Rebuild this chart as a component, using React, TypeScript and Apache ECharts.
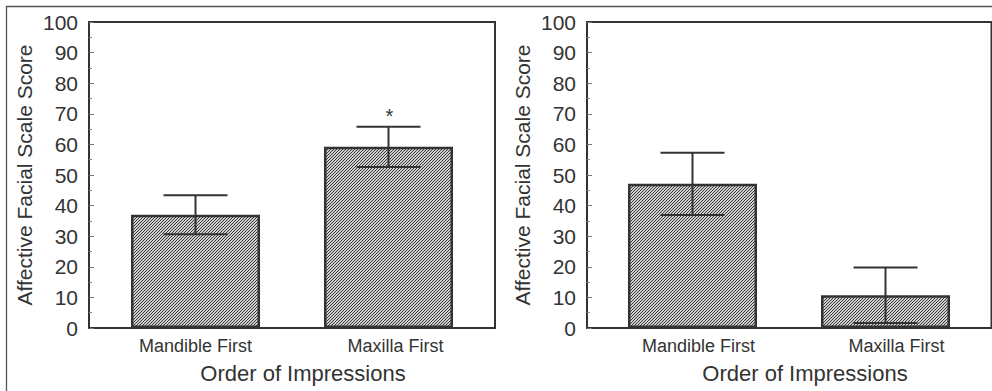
import React, { useEffect, useRef } from "react";
import * as echarts from "echarts";

const categories = ["Mandible First", "Maxilla First"];
const leftMeans = [37, 59.2];
const leftErrors = [6.4, 6.6];
const leftMarks = ["", "*"];
const rightMeans = [47.1, 10.7];
const rightErrors = [10.2, 9.1];
const rightMarks = ["", ""];
const yTitle = "Affective Facial Scale Score";
const xTitle = "Order of Impressions";

const FONT = "'Liberation Sans', Arial, Helvetica, sans-serif";
const INK = "#333";

function makeHatch(): string {
  const c = document.createElement("canvas");
  c.width = 3;
  c.height = 3;
  const ctx = c.getContext("2d")!;
  ctx.fillStyle = "#cfcfcf";
  ctx.fillRect(0, 0, 3, 3);
  ctx.fillStyle = "#3a3a3a";
  ctx.fillRect(2, 0, 1, 1);
  ctx.fillRect(1, 1, 1, 1);
  ctx.fillRect(0, 2, 1, 1);
  return c.toDataURL();
}

export default function App() {
  const ref = useRef<HTMLDivElement>(null);
  useEffect(() => {
    if (!ref.current) return;
    const chart = echarts.init(ref.current, null, { renderer: "svg" });
    const hatch = { image: makeHatch(), repeat: "repeat", imageWidth: 3, imageHeight: 3 } as any;

    const boxGrid = (left: number, width: number) => ({
      left, top: 22, width, height: 306, show: true,
      borderColor: INK, borderWidth: 2, backgroundColor: "transparent",
    });
    const barGrid = (left: number) => ({ left, top: 22, width: 386, height: 306 });

    const boxY = (gridIndex: number) => ({
      type: "value", gridIndex, min: 0, max: 100, interval: 10,
      axisLine: { show: false },
      axisTick: { show: true, inside: true, length: 5, lineStyle: { color: "#777", width: 1 } },
      minorTick: { show: true, splitNumber: 2, length: 3, lineStyle: { color: "#888", width: 1 } },
      splitLine: { show: false },
      axisLabel: { show: true, fontSize: 21, color: INK, fontFamily: FONT, margin: 11 },
      name: yTitle, nameLocation: "middle", nameGap: 54,
      nameTextStyle: { fontSize: 21, color: INK, fontFamily: FONT },
    });
    const hiddenY = (gridIndex: number) => ({
      type: "value", gridIndex, min: 0, max: 100, show: false,
    });
    const boxX = (gridIndex: number) => ({
      type: "value", gridIndex, min: 0, max: 1, show: false,
    });
    const catX = (gridIndex: number, shift: number, offsets: number[]) => ({
      type: "category", gridIndex, data: categories,
      axisLine: { show: false }, axisTick: { show: false },
      axisLabel: {
        interval: 0, hideOverlap: false,
        fontSize: 18, color: INK, fontFamily: FONT, margin: 9,
        formatter: (v: string, i: number) => `{c${i}|${v}}`,
        rich: {
          c0: { fontSize: 18, color: INK, fontFamily: FONT, padding: [0, 0, 0, 2 * offsets[0]] },
          c1: { fontSize: 18, color: INK, fontFamily: FONT, padding: [0, 0, 0, 2 * offsets[1]] },
        },
      },
      name: xTitle, nameLocation: "middle", nameGap: 34,
      nameTextStyle: { fontSize: 22, color: INK, fontFamily: FONT, padding: [0, 0, 0, shift] },
    });

    const errSeries = (axisIndex: number, means: number[], errs: number[], marks: string[]) => ({
      type: "custom",
      xAxisIndex: axisIndex, yAxisIndex: axisIndex, z: 5,
      data: means.map((m, i) => [i, m, errs[i]]),
      renderItem: (params: any, api: any) => {
        const x = api.value(0);
        const m = api.value(1);
        const e = api.value(2);
        const top = api.coord([x, m + e]);
        const bot = api.coord([x, m - e]);
        const hw = 32;
        const st = { stroke: INK, lineWidth: 2 };
        const children: any[] = [
          { type: "line", shape: { x1: top[0], y1: top[1], x2: bot[0], y2: bot[1] }, style: st },
          { type: "line", shape: { x1: top[0] - hw, y1: top[1], x2: top[0] + hw, y2: top[1] }, style: st },
          { type: "line", shape: { x1: bot[0] - hw, y1: bot[1], x2: bot[0] + hw, y2: bot[1] }, style: st },
        ];
        const mk = marks[params.dataIndex];
        if (mk) {
          children.push({
            type: "text", x: top[0] + 1, y: top[1] - 11,
            style: { text: mk, fontSize: 20, fill: INK, fontFamily: FONT, align: "center", verticalAlign: "middle" },
          });
        }
        return { type: "group", children };
      },
    });

    const barSeries = (axisIndex: number, means: number[]) => ({
      type: "bar", xAxisIndex: axisIndex, yAxisIndex: axisIndex,
      data: means, barWidth: 129,
      itemStyle: { color: hatch, borderColor: INK, borderWidth: 2.5 },
    });

    chart.setOption({
      animation: false,
      textStyle: { fontFamily: FONT },
      grid: [boxGrid(89, 406), barGrid(99), boxGrid(587, 404.5), barGrid(596)],
      xAxis: [catX(1, 22, [0, 7]), catX(3, 32, [6, 11]), boxX(0), boxX(2)],
      yAxis: [hiddenY(1), hiddenY(3), boxY(0), boxY(2)],
      series: [
        barSeries(0, leftMeans),
        errSeries(0, leftMeans, leftErrors, leftMarks),
        barSeries(1, rightMeans),
        errSeries(1, rightMeans, rightErrors, rightMarks),
        { type: "scatter", xAxisIndex: 2, yAxisIndex: 2, data: [] },
        { type: "scatter", xAxisIndex: 3, yAxisIndex: 3, data: [] },
      ],
      graphic: [
        { type: "line", shape: { x1: 6, y1: 6.5, x2: 992, y2: 6.5 }, style: { stroke: "#555", lineWidth: 1.3 } },
        { type: "line", shape: { x1: 6.5, y1: 6, x2: 6.5, y2: 391 }, style: { stroke: "#555", lineWidth: 1.3 } },
      ],
    });
    return () => chart.dispose();
  }, []);
  return (
    <div
      ref={ref}
      style={{ position: "fixed", left: 0, top: 0, width: 992, height: 391, background: "#fff" }}
    />
  );
}
